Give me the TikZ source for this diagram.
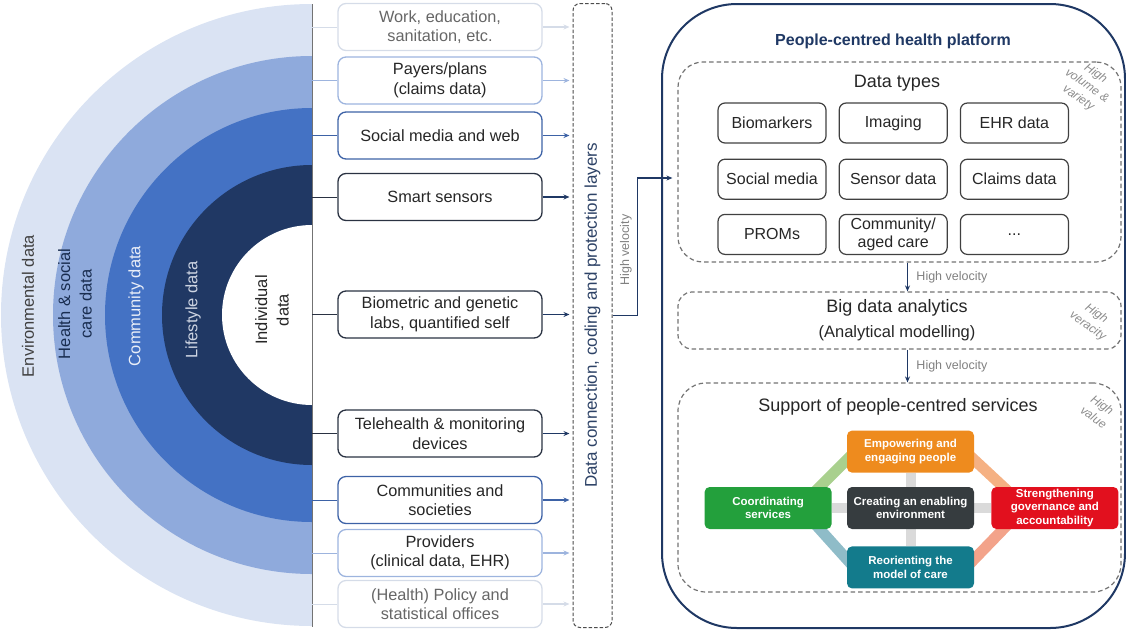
\documentclass[tikz,border=0pt]{standalone}
\usepackage{fontspec}
\setmainfont{Liberation Sans}
\usetikzlibrary{positioning, backgrounds, arrows.meta}

\definecolor{ringA}{HTML}{DAE3F3}
\definecolor{ringB}{HTML}{8FAADC}
\definecolor{ringC}{HTML}{4472C4}
\definecolor{ringD}{HTML}{203864}
\definecolor{rimA}{HTML}{D5DCE8}
\definecolor{rimB}{HTML}{9DB4DE}
\definecolor{rimC}{HTML}{3D62A6}
\definecolor{rimD}{HTML}{2A3242}
\definecolor{navy}{HTML}{1F3864}
\definecolor{ink}{HTML}{2D4266}
\definecolor{barGreen}{HTML}{A9D08E}
\definecolor{barOrange}{HTML}{F5B183}
\definecolor{barTeal}{HTML}{8FBCC8}
\definecolor{barSalmon}{HTML}{F3A38A}
\definecolor{hubGray}{HTML}{DADADA}
\definecolor{pOrange}{HTML}{EE8B1E}
\definecolor{pDark}{HTML}{363C3F}
\definecolor{pTeal}{HTML}{137B8C}
\definecolor{pGreen}{HTML}{23A03C}
\definecolor{pRed}{HTML}{E2101E}

\begin{document}
\begin{tikzpicture}[
    x=1pt, y=-1pt,
    every node/.style={font=\fontsize{16}{19.5}\selectfont},
    ring label/.style={rotate=90, align=center, font=\fontsize{16.5}{21.5}\selectfont},
    src/.style={draw, line width=1.3pt, rounded corners=8pt, minimum width=204pt, minimum height=47pt, inner sep=0pt, align=center, text=black!85, font=\fontsize{16.3}{19.5}\selectfont},
    link/.style={draw=#1, line width=1pt},
    feed/.style={draw=#1, line width=1.2pt, -{Stealth[length=6pt, width=5pt]}, shorten >=3pt},
    layer/.style={draw=black!70, line width=1pt, dash pattern=on 3.5pt off 2pt, rounded corners=7pt, minimum width=39pt, minimum height=624pt},
    platform/.style={draw=navy, line width=2pt, rounded corners=75pt, minimum width=463pt, minimum height=624pt},
    zone/.style={draw=black!55, line width=1.2pt, dash pattern=on 4.5pt off 3pt, minimum width=443pt},
    heading/.style={font=\fontsize{18}{21}\selectfont, text=black!85},
    type/.style={draw=black!75, line width=1.2pt, rounded corners=7pt, minimum width=108pt, minimum height=40pt, inner sep=0pt, align=center, text=black!85, font=\fontsize{16}{17.5}\selectfont},
    tag/.style={rotate=-35, align=center, text=black!45, font=\itshape\fontsize{12}{15}\selectfont},
    vel/.style={text=black!50, font=\fontsize{12.5}{14}\selectfont},
    flow/.style={draw=navy, line width=1.3pt, -{Stealth[length=6pt, width=5pt]}},
    pillar/.style={rounded corners=5pt, minimum width=127pt, minimum height=42pt, inner sep=0pt, align=center, text=white, font=\bfseries\fontsize{11.5}{13.5}\selectfont},
    hub/.style={draw=hubGray, line width=10pt},
    spoke/.style={draw=#1, line width=11pt, shorten <=-14pt, shorten >=-14pt},
]
\useasboundingbox (0,0) rectangle (1126,635);

% ── Nested data rings (left half) ────────────────────────────────────────────
\fill[ringA] (312,4)   arc[start angle=90, end angle=270, radius=311pt] -- cycle;
\fill[ringB] (312,56)  arc[start angle=90, end angle=270, radius=259pt] -- cycle;
\fill[ringC] (312,108) arc[start angle=90, end angle=270, radius=207pt] -- cycle;
\fill[ringD] (312,165) arc[start angle=90, end angle=270, radius=150pt] -- cycle;
\fill[white] (312,225) arc[start angle=90, end angle=270, radius=90pt] -- cycle;

\node[ring label, text=black!75] (envlbl) at (28,306) {Environmental data};
\node[ring label, text=ringD!80!black] (carelbl) at (75,304) {Health \& social\\care data};
\node[ring label, text=ringA!60!white] (commlbl) at (136,306) {Community data};
\node[ring label, text=ringA!85!gray] (lifelbl) at (193,310) {Lifestyle data};
\node[ring label, text=black!85] (indlbl) at (272,310) {Individual\\data};

\coordinate (spine) at (312,4);
\draw[black!55, line width=0.8pt] (spine) -- (312,627);

% ── Data sources ─────────────────────────────────────────────────────────────
\node[src, draw=rimA, text=black!60] (work) at (440,27) {Work, education,\\sanitation, etc.};
\node[src, draw=rimB] (payers) at (440,80.5) {Payers/plans\\(claims data)};
\node[src, draw=rimC] (social) at (440,135.5) {Social media and web};
\node[src, draw=rimD] (smart) at (440,197) {Smart sensors};
\node[src, draw=rimD] (biom) at (440,314.5) {Biometric and genetic\\labs, quantified self};
\node[src, draw=rimD] (tele) at (440,433.5) {Telehealth \& monitoring\\devices};
\node[src, draw=rimC] (comm) at (440,500) {Communities and\\societies};
\node[src, draw=rimB] (prov) at (440,553) {Providers\\(clinical data, EHR)};
\node[src, draw=rimA, text=black!60] (policy) at (440,604) {(Health) Policy and\\statistical offices};

% ── Connection / coding / protection column ─────────────────────────────────
\node[layer] (layers) at (592.5,315.5) {};
\node[rotate=90, text=ink, font=\fontsize{17}{20}\selectfont] (layerlbl) at (layers.center) {Data connection, coding and protection layers};

\draw[link=rimA] (work.west) -- (work.west -| spine);
\draw[link=rimB] (payers.west) -- (payers.west -| spine);
\draw[link=rimC] (social.west) -- (social.west -| spine);
\draw[link=rimD] (smart.west) -- (smart.west -| spine);
\draw[link=rimD] (biom.west) -- (biom.west -| spine);
\draw[link=rimD] (tele.west) -- (tele.west -| spine);
\draw[link=rimC] (comm.west) -- (comm.west -| spine);
\draw[link=rimB] (prov.west) -- (prov.west -| spine);
\draw[link=rimA] (policy.west) -- (policy.west -| spine);

\draw[feed=rimA] (work.east) -- (work.east -| layers.west);
\draw[feed=rimB] (payers.east) -- (payers.east -| layers.west);
\draw[feed=rimC] (social.east) -- (social.east -| layers.west);
\draw[feed=navy] (smart.east) -- (smart.east -| layers.west);
\draw[feed=navy] (biom.east) -- (biom.east -| layers.west);
\draw[feed=navy] (tele.east) -- (tele.east -| layers.west);
\draw[feed=rimC] (comm.east) -- (comm.east -| layers.west);
\draw[feed=rimB] (prov.east) -- (prov.east -| layers.west);
\draw[feed=rimA] (policy.east) -- (policy.east -| layers.west);

% ── People-centred health platform (right region) ───────────────────────────
\node[platform] (platform) at (893.5,316) {};
\node[font=\bfseries\fontsize{16}{19}\selectfont, text=navy] (ptitle) at (893,41) {People-centred health platform};

\node[zone, minimum height=200pt, rounded corners=25pt] (types) at (899.5,162) {};
\node[heading] (typeslbl) at (897,83) {Data types};
\node[tag] (volume) at (1087,86) {High\\volume \&\\variety};

\node[type] (bio) at (772,123) {Biomarkers};
\node[type, right=12pt of bio] (img) {Imaging};
\node[type, right=12pt of img] (ehr) {EHR data};
\node[type, below=15pt of bio] (sm) {Social media};
\node[type, below=15pt of img] (sensor) {Sensor data};
\node[type, below=15pt of ehr] (claims) {Claims data};
\node[type, below=14pt of sm] (proms) {PROMs};
\node[type, below=14pt of sensor] (aged) {Community/\\aged care};
\node[type, below=14pt of claims] (more) {...};

\node[zone, minimum height=57pt, rounded corners=14pt] (big) at (899.5,320.5) {};
\node[heading] (biglbl) at (897,308) {Big data analytics};
\node[text=black!85, font=\fontsize{16.5}{19}\selectfont] (bigsub) at (897,333) {(Analytical modelling)};
\node[tag] (veracity) at (1092,320) {High\\veracity};

\node[zone, minimum height=209pt, rounded corners=28pt] (support) at (899.5,487.5) {};
\node[heading] (supportlbl) at (898,407) {Support of people-centred services};
\node[tag] (value) at (1098,411) {High\\value};

% sources into the platform
\draw[flow, shorten >=5pt] (layers.east) -- ++(25,0) |- ([yshift=-16pt]types.west);
\node[vel, rotate=90] (vel1) at (626,250) {High velocity};

\draw[flow] ([xshift=8pt]types.south) -- ([xshift=8pt]big.north)
    node[midway, right=5pt, vel] (vel2) {High velocity};
\draw[flow] ([xshift=8pt]big.south) -- ([xshift=8pt]support.north)
    node[midway, right=5pt, vel] (vel3) {High velocity};

% ── Service pillars ─────────────────────────────────────────────────────────
\node[pillar, fill=pDark] (enabling) at (910.5,508) {Creating an enabling\\environment};
\node[pillar, fill=pOrange, above=14pt of enabling] (empower) {Empowering and\\engaging people};
\node[pillar, fill=pTeal, below=17pt of enabling] (reorient) {Reorienting the\\model of care};
\node[pillar, fill=pGreen, left=15pt of enabling] (coord) {Coordinating\\services};
\node[pillar, fill=pRed, right=17pt of enabling] (strength) {Strengthening\\governance and\\accountability};

\begin{pgfonlayer}{background}
    \draw[hub] (empower) -- (enabling) -- (reorient);
    \draw[hub] (coord) -- (enabling) -- (strength);
    \draw[spoke=barGreen]  ([xshift=-12pt]coord.north east)   -- ([yshift=13pt]empower.south west);
    \draw[spoke=barOrange] ([xshift=12pt]strength.north west) -- ([yshift=13pt]empower.south east);
    \draw[spoke=barTeal]   ([xshift=-12pt]coord.south east)   -- ([yshift=-13pt]reorient.north west);
    \draw[spoke=barSalmon] ([xshift=12pt]strength.south west) -- ([yshift=-13pt]reorient.north east);
\end{pgfonlayer}

\end{tikzpicture}
\end{document}
